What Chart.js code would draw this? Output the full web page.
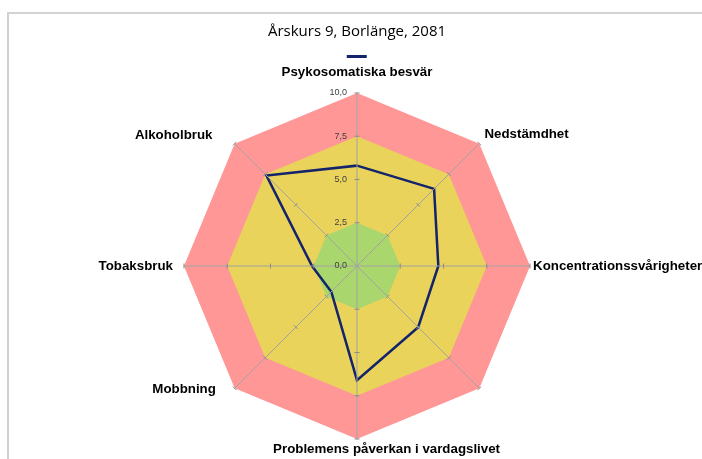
<!DOCTYPE html>
<html>
<head>
<meta charset="utf-8">
<script src="https://cdn.jsdelivr.net/npm/chart.js@4.4.1/dist/chart.umd.min.js"></script>
<style>
  html, body { margin: 0; padding: 0; background: #fff; overflow: hidden; width: 702px; height: 459px; }
  #ram { position: absolute; left: 7px; top: 12px; width: 700px; height: 460px; border-top: 2px solid #d2d2d2; border-left: 2px solid #d2d2d2; }
  #chart { position: absolute; left: -18px; top: 0; }
</style>
</head>
<body>
<div id="ram"></div>
<canvas id="chart" width="750" height="463"></canvas>
<script>
const kategorier = ['Psykosomatiska besvär', 'Nedstämdhet', 'Koncentrationssvårigheter', '', 'Problemens påverkan i vardagslivet', 'Mobbning', 'Tobaksbruk', 'Alkoholbruk']
const varden = [5.8, 6.3, 4.7, 5.0, 6.6, 2.1, 2.6, 7.4]
const zonGranser = [2.5, 7.5, 10]
const zonFarger = ['#a9d76d', '#e9d35b', '#ff9797']
const skalaVarden = [0, 2.5, 5, 7.5, 10]
const skalaEtiketter = ['0,0', '2,5', '5,0', '7,5', '10,0']

const marin = '#14246b'
// avstånd från hörnet, och blanksteg före/efter för att flytta etiketten som i Excel
const etikettAvstand = [13, 2, 3, 5, 2, -10, 11, 0]
const etikettSpel = { 1: [1, 0], 4: [16, 0], 5: [0, 7], 7: [0, 6] }

const zoner = zonGranser.map((g, i) => ({
    label: 'zon' + i,
    data: kategorier.map(() => g),
    backgroundColor: zonFarger[i],
    borderWidth: 0,
    fill: 'origin'
}))

// skalstreck och skaletiketter som i Excel
const skalPlugin = {
    id: 'skala',
    afterDraw(chart) {
        const r = chart.scales.r
        const ctx = chart.ctx
        ctx.save()
        ctx.strokeStyle = '#8c8c8c'
        ctx.lineWidth = 1
        for (let i = 0; i < kategorier.length; i++) {
            const vinkel = r.getIndexAngle(i)
            const px = Math.cos(vinkel) * 2.5, py = Math.sin(vinkel) * 2.5
            skalaVarden.slice(1).forEach(v => {
                const p = r.getPointPositionForValue(i, v)
                ctx.beginPath()
                ctx.moveTo(p.x - px, p.y - py)
                ctx.lineTo(p.x + px, p.y + py)
                ctx.stroke()
            })
        }
        ctx.fillStyle = '#404040'
        ctx.font = '9px "Liberation Sans", Arial, sans-serif'
        ctx.textAlign = 'right'
        ctx.textBaseline = 'middle'
        skalaVarden.forEach((v, k) => {
            const p = r.getPointPositionForValue(0, v)
            ctx.fillText(skalaEtiketter[k], p.x - 10, p.y)
        })
        ctx.restore()
    }
}

new Chart(document.getElementById('chart'), {
    type: 'radar',
    data: {
        labels: kategorier,
        datasets: [{
            label: '',
            data: varden,
            borderColor: marin,
            backgroundColor: marin,
            borderWidth: 2.5,
            fill: false
        }].concat(zoner)
    },
    options: {
        responsive: false,
        animation: false,
        events: [],
        layout: { padding: 0 },
        elements: {
            line: { tension: 0 },
            point: { radius: 0 }
        },
        scales: {
            r: {
                min: 0,
                max: 10,
                startAngle: 0,
                ticks: { display: false, stepSize: 2.5 },
                grid: { display: false, z: 1 },
                angleLines: { color: '#a3a3a3', lineWidth: 1 },
                pointLabels: {
                    color: '#000',
                    padding: c => etikettAvstand[c.index],
                    font: { family: '"Liberation Sans", Arial, sans-serif', size: 13.3, weight: 'bold' },
                    callback: (text, i) => {
                        const s = etikettSpel[i]
                        return s ? ' '.repeat(s[0]) + text + ' '.repeat(s[1]) : text
                    }
                }
            }
        },
        plugins: {
            title: {
                display: true,
                text: 'Årskurs 9, Borlänge, 2081',
                color: '#000',
                font: { family: '"Open Sans", sans-serif', size: 15, weight: 'normal' },
                padding: { top: 23, bottom: 14 }
            },
            legend: {
                display: true,
                position: 'top',
                maxHeight: 4,
                labels: {
                    boxWidth: 20,
                    boxHeight: 3,
                    padding: 0,
                    font: { size: 1 },
                    generateLabels: chart => Chart.defaults.plugins.legend.labels.generateLabels(chart)
                        .filter(it => it.datasetIndex === 0)
                        .map(it => Object.assign(it, { fillStyle: marin, lineWidth: 0 }))
                }
            },
            tooltip: { enabled: false }
        }
    },
    plugins: [skalPlugin]
})
</script>
</body>
</html>
